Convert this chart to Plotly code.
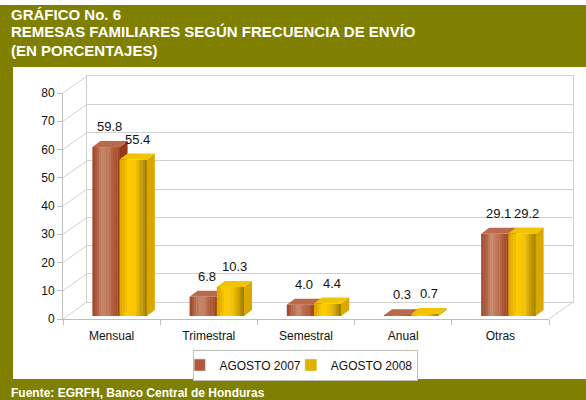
import plotly.graph_objects as go

# ---------------- data ----------------
categories = ["Mensual", "Trimestral", "Semestral", "Anual", "Otras"]
agosto_2007 = [59.8, 6.8, 4.0, 0.3, 29.1]
agosto_2008 = [55.4, 10.3, 4.4, 0.7, 29.2]
series_names = ["AGOSTO 2007", "AGOSTO 2008"]
y_ticks = [0, 10, 20, 30, 40, 50, 60, 70, 80]
title_lines = ["GRÁFICO No. 6",
               "REMESAS FAMILIARES SEGÚN FRECUENCIA DE ENVÍO",
               "(EN PORCENTAJES)"]
source_text = "Fuente: EGRFH, Banco Central de Honduras"

# ---------------- geometry (pixels) ----------------
W, H = 586, 400
FONT = "Arial, Liberation Sans, sans-serif"
OLIVE = "#808000"
GRID = "#D0D0D0"
FX0, FX1 = 63, 549          # front floor edge
FY0, FY_TOP = 319, 93       # front axis 0 and 80
WDX, WDY = 24, 17           # wall depth offset
BDX, BDY = 8, 6             # bar depth offset
BAR_SHIFT_X, BAR_Y0 = 8, 316
YMAX = 80
PX_PER_UNIT = (FY0 - FY_TOP) / YMAX
BAR_W = 0.28                # bar width in category units


def px(x):
    return x / W


def py(y):
    return 1 - y / H


def hex2rgb(h):
    h = h.lstrip("#")
    return [int(h[i:i + 2], 16) for i in (0, 2, 4)]


def grad(stops, t):
    for (t0, c0), (t1, c1) in zip(stops[:-1], stops[1:]):
        if t0 <= t <= t1:
            a = (t - t0) / (t1 - t0) if t1 > t0 else 0
            r0, r1 = hex2rgb(c0), hex2rgb(c1)
            return "rgb(%d,%d,%d)" % tuple(round(r0[i] + (r1[i] - r0[i]) * a) for i in range(3))
    return stops[-1][1]


brown_stops = [(0, "#9C4124"), (0.4, "#C98A6D"), (1, "#A1421E")]
gold_stops = [(0, "#D9A300"), (0.3, "#FFCB00"), (0.6, "#F4C100"), (1, "#9A7A00")]
styles = [
    dict(stops=brown_stops, side="#93391A", top="#BA6A4B", legend="#B2593B", xa="x3", ya="y3", off=-BAR_W),
    dict(stops=gold_stops, side="#D9A800", top="#F2C400", legend="#E2B000", xa="x4", ya="y4", off=0.0),
]

fig = go.Figure()

# placeholder traces so that the front-axis and back-wall subplots get drawn
fig.add_trace(go.Scatter(x=[None], y=[None], xaxis="x", yaxis="y", showlegend=False, hoverinfo="skip"))
fig.add_trace(go.Scatter(x=[None], y=[None], xaxis="x2", yaxis="y2", showlegend=False, hoverinfo="skip"))

N = 12
xs = list(range(len(categories)))
dxu = BDX / ((FX1 - FX0) / len(categories))
dyu = BDY / PX_PER_UNIT

for vals, name, st in zip([agosto_2007, agosto_2008], series_names, styles):
    for k in range(N):
        t = (k + 0.5) / N
        fig.add_trace(go.Bar(
            x=xs, y=vals, width=BAR_W / N * 1.15, offset=st["off"] + k * BAR_W / N,
            marker=dict(color=grad(st["stops"], t), line=dict(width=0)),
            showlegend=False, hoverinfo="skip", xaxis=st["xa"], yaxis=st["ya"]))
    sx, sy, tx, ty = [], [], [], []
    for i, v in zip(xs, vals):
        l = i + st["off"]
        r = l + BAR_W
        sx += [r, r + dxu, r + dxu, r, r, None]
        sy += [0, dyu, v + dyu, v, 0, None]
        tx += [l, r, r + dxu, l + dxu, l, None]
        ty += [v, v, v + dyu, v + dyu, v, None]
    fig.add_trace(go.Scatter(x=sx, y=sy, mode="lines", fill="toself", fillcolor=st["side"],
                             line=dict(width=0), showlegend=False, hoverinfo="skip",
                             xaxis=st["xa"], yaxis=st["ya"]))
    fig.add_trace(go.Scatter(x=tx, y=ty, mode="lines", fill="toself", fillcolor=st["top"],
                             line=dict(width=0), showlegend=False, hoverinfo="skip",
                             xaxis=st["xa"], yaxis=st["ya"]))
    fig.add_trace(go.Bar(x=[None], y=[None], name=name, marker=dict(color=st["legend"]),
                         xaxis=st["xa"], yaxis=st["ya"], showlegend=True))
    for i, v in zip(xs, vals):
        fig.add_annotation(x=i + st["off"] + BAR_W / 2 + dxu / 2, y=v + dyu, xref=st["xa"], yref=st["ya"],
                           text="%.1f" % v, showarrow=False, yanchor="bottom", yshift=5,
                           font=dict(family=FONT, size=13, color="#111"))

shapes = []
shapes.append(dict(type="rect", xref="paper", yref="paper", x0=0, x1=1, y0=0, y1=py(5),
                   fillcolor=OLIVE, line=dict(width=0), layer="below"))
shapes.append(dict(type="rect", xref="paper", yref="paper", x0=px(13), x1=1, y0=py(379), y1=py(67),
                   fillcolor="white", line=dict(width=0), layer="below"))
for v in y_ticks:
    yf = FY0 - v * PX_PER_UNIT
    shapes.append(dict(type="line", xref="paper", yref="paper", x0=px(FX0), y0=py(yf),
                       x1=px(FX0 + WDX), y1=py(yf - WDY), line=dict(color=GRID, width=1), layer="below"))
shapes.append(dict(type="line", xref="paper", yref="paper", x0=px(FX1), y0=py(FY0),
                   x1=px(FX1 + WDX), y1=py(FY0 - WDY), line=dict(color=GRID, width=1), layer="below"))

for k, line in enumerate(title_lines):
    fig.add_annotation(x=px(9), y=py(14 + 18 * k), xref="paper", yref="paper", xanchor="left",
                       yanchor="middle", showarrow=False, text="<b>%s</b>" % line,
                       font=dict(family=FONT, size=15, color="white"))
fig.add_annotation(x=px(9), y=py(393), xref="paper", yref="paper", xanchor="left", yanchor="middle",
                   showarrow=False, text="<b>%s</b>" % source_text,
                   font=dict(family=FONT, size=12, color="white"))

bar_x_dom = [px(FX0 + BAR_SHIFT_X), px(FX1 + BAR_SHIFT_X)]
bar_y_dom = [py(BAR_Y0), py(BAR_Y0 - YMAX * PX_PER_UNIT)]
hidden = dict(visible=False, fixedrange=True, automargin=False)

fig.update_layout(
    width=W, height=H, autosize=False,
    margin=dict(l=0, r=0, t=0, b=0, pad=0, autoexpand=False),
    paper_bgcolor="white", plot_bgcolor="rgba(0,0,0,0)",
    barmode="overlay",
    shapes=shapes,
    showlegend=True,
    legend=dict(orientation="h", x=0.522, xanchor="center", y=py(365), yanchor="middle",
                bgcolor="white", bordercolor="#BFBFBF", borderwidth=1,
                font=dict(family=FONT, size=12, color="#111"), itemwidth=30, indentation=-15,
                traceorder="normal"),
    xaxis=dict(domain=[px(FX0), px(FX1)], range=[-0.5, 4.5], anchor="y", automargin=False,
               tickvals=xs, ticktext=categories, ticks="", showgrid=False, zeroline=False,
               showline=True, linecolor="#BFBFBF", ticklabelstandoff=6,
               tickfont=dict(family=FONT, size=12, color="#111"),
               minor=dict(ticks="outside", tick0=-0.5, dtick=1, ticklen=5, tickcolor="#BFBFBF", showgrid=False),
               fixedrange=True),
    yaxis=dict(domain=[py(FY0), py(FY_TOP)], range=[0, YMAX], anchor="x", tickvals=y_ticks,
               automargin=False,
               ticks="outside", ticklen=5, tickcolor="#BFBFBF", showgrid=False, zeroline=False,
               showline=True, linecolor="#BFBFBF",
               tickfont=dict(family=FONT, size=12, color="#111"), fixedrange=True),
    xaxis2=dict(domain=[px(FX0 + WDX), px(FX1 + WDX)], range=[0, 1], anchor="y2", automargin=False,
                showgrid=False, zeroline=False, showline=True, mirror=True, linecolor=GRID,
                showticklabels=False, ticks="", fixedrange=True),
    yaxis2=dict(domain=[py(FY0 - WDY), py(FY_TOP - WDY)], range=[0, YMAX], anchor="x2",
                automargin=False,
                tickvals=y_ticks, showgrid=True, gridcolor=GRID, gridwidth=1, zeroline=False,
                showline=True, mirror=True, linecolor=GRID, showticklabels=False, ticks="",
                fixedrange=True),
    xaxis3=dict(domain=bar_x_dom, range=[-0.5, 4.5], anchor="y3", **hidden),
    yaxis3=dict(domain=bar_y_dom, range=[0, YMAX], anchor="x3", **hidden),
    xaxis4=dict(range=[-0.5, 4.5], overlaying="x3", anchor="y4", **hidden),
    yaxis4=dict(range=[0, YMAX], overlaying="y3", anchor="x4", **hidden),
)

fig.write_html("out.html", post_script="document.body.style.margin='0';",
               config={"displayModeBar": False})
